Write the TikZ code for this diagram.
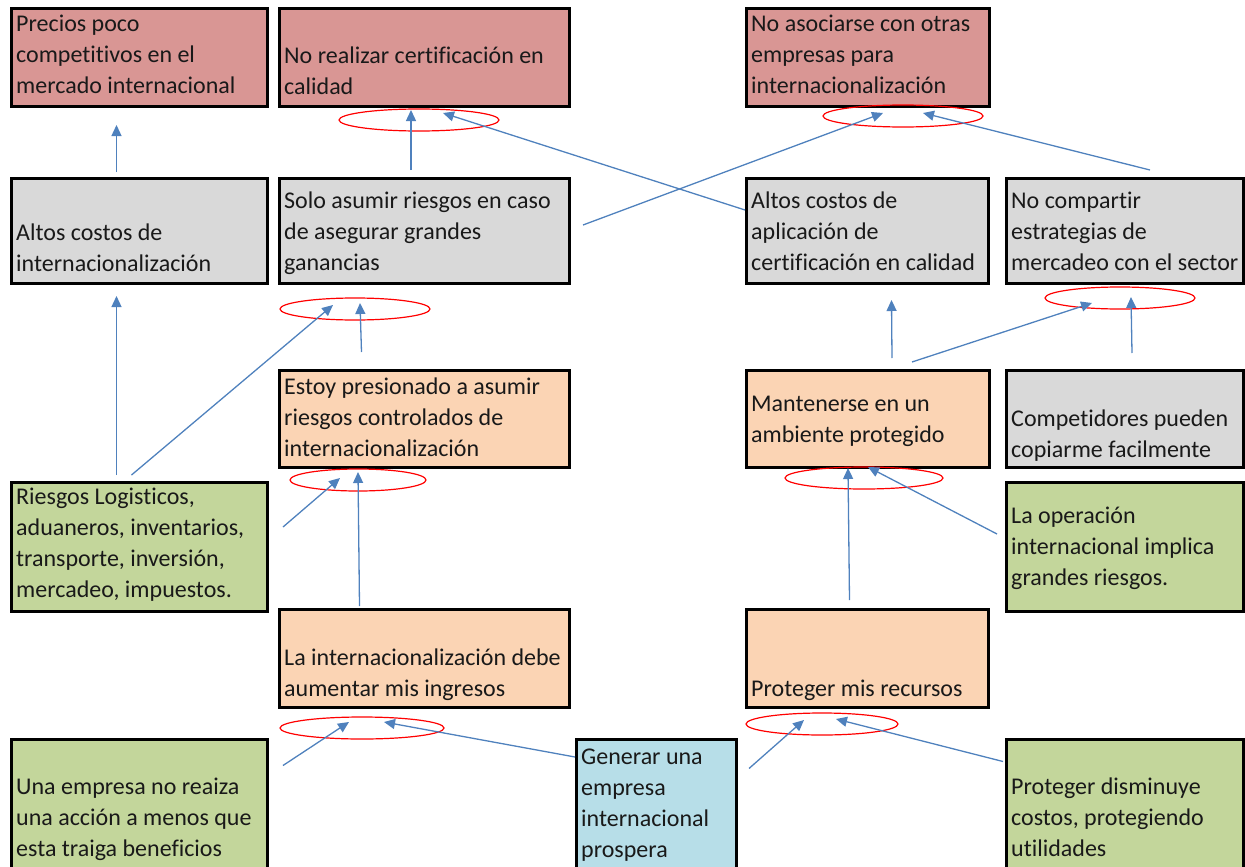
\documentclass[tikz,border=0pt]{standalone}
\usepackage{fontspec}
\setmainfont{Carlito}[Ligatures={NoCommon}]
\usetikzlibrary{arrows.meta,calc}
\definecolor{cred}{HTML}{D99694}
\definecolor{cgray}{HTML}{D9D9D9}
\definecolor{corange}{HTML}{FBD4B4}
\definecolor{cgreen}{HTML}{C3D69B}
\definecolor{cblue}{HTML}{B7DEE8}
\definecolor{arrowblue}{HTML}{4F81BD}
\definecolor{ellred}{HTML}{FF0000}
\tikzset{
  boxshape/.style={draw=black, line width=3pt, inner sep=0pt, anchor=north west},
  boxtext/.style={anchor=north west, inner sep=0pt, align=left, font=\fontsize{24}{31}\selectfont, text=black!90},
  conn/.style={draw=arrowblue, line width=1.3pt, -{Triangle[length=11pt,width=10pt]}}
}
% \bx{name}{fill}{x1}{y1}{x2}{y2}{first baseline}{text}
\newcommand{\bx}[8]{%
  \node[boxshape, fill=#2, minimum width=#5pt-#3pt, minimum height=#6pt-#4pt] (#1) at (#3,#4) {};
  \node[boxtext] (#1-t) at (#3+6,#7-22) {\rule{0pt}{22pt}#8};
}
\newcommand{\ov}[5]{%
  \draw[draw=ellred, line width=1.2pt] (#2,#3) ellipse [x radius=#4pt, y radius=#5pt];
  \coordinate (#1) at (#2,#3);
}
\begin{document}
\begin{tikzpicture}[x=1pt,y=-1pt]
\useasboundingbox (0,0) rectangle (1245,867);
% Row 1
\bx{A1}{cred}{10}{7}{266}{105}{31}{Precios poco\\competitivos en el\\mercado internacional}
\bx{A2}{cred}{278}{7}{568}{105}{63}{No realizar certificación en\\calidad}
\bx{A3}{cred}{745}{7}{988}{105}{31}{No asociarse con otras\\empresas para\\internacionalización}
% Row 2
\bx{B1}{cgray}{10}{177}{266}{282}{240}{Altos costos de\\internacionalización}
\bx{B2}{cgray}{278}{177}{568}{282}{208}{Solo asumir riesgos en caso\\de asegurar grandes\\ganancias}
\bx{B3}{cgray}{745}{177}{987}{282}{208}{Altos costos de\\aplicación de\\certificación en calidad}
\bx{B4}{cgray}{1005}{177}{1242}{282}{208}{No compartir\\estrategias de\\mercadeo con el sector}
% Row 3
\bx{C1}{corange}{278}{369}{568}{466}{394}{Estoy presionado a asumir\\riesgos controlados de\\internacionalización}
\bx{C2}{corange}{745}{369}{988}{466}{411}{Mantenerse en un\\ambiente protegido}
\bx{C3}{cgray}{1005}{369}{1242}{466}{426}{Competidores pueden\\copiarme facilmente}
% Row 4
\bx{D1}{cgreen}{10}{481}{266}{610}{504}{Riesgos Logisticos,\\aduaneros, inventarios,\\transporte, inversión,\\mercadeo, impuestos.}
\bx{D2}{cgreen}{1005}{481}{1242}{610}{523}{La operación\\internacional implica\\grandes riesgos.}
% Row 5
\bx{E1}{corange}{278}{608}{568}{706}{665}{La internacionalización debe\\aumentar mis ingresos}
\bx{E2}{corange}{745}{608}{987}{706}{696}{Proteger mis recursos}
% Row 6
\bx{F1}{cgreen}{10}{738}{266}{868}{794}{Una empresa no reaiza\\una acción a menos que\\esta traiga beneficios}
\bx{F2}{cblue}{575}{738}{735}{868}{764}{Generar una\\empresa\\internacional\\prospera}
\bx{F3}{cgreen}{1005}{738}{1242}{868}{794}{Proteger disminuye\\costos, protegiendo\\utilidades}
% Ellipses
\ov{eA2}{419}{120}{80}{11}
\ov{eA3}{903}{116}{80}{11}
\ov{eB2}{355}{309}{75}{11}
\ov{eB4}{1120}{298}{75}{11}
\ov{eC1}{358}{480}{68}{11}
\ov{eC2}{864}{478}{79}{11}
\ov{eE1}{362}{728}{82}{11}
\ov{eE2}{822}{724}{76}{11}
% Connectors
\draw[conn] ($(B1.north)+(-23,-5)$) -- ($(A1.south)+(-23,17)$);
\draw[conn] ($(eA2)+(-8,50)$) -- ($(eA2)+(-8,-10)$);
\draw[conn] (B3.west |- 0,210) -- ($(eA2)+(24,-7)$);
\draw[conn] ($(B2.east)+(12,-6)$) -- ($(eA3)+(-20,-3)$);
\draw[conn] ($(B4.north)+(25,-7)$) -- ($(eA3)+(20,-3)$);
\draw[conn] ($(D1.north)+(-23,-6)$) -- ($(B1.south)+(-23,11)$);
\draw[conn] ($(D1.north)+(-8,-6)$) -- ($(eB2)+(-22,-4)$);
\draw[conn] ($(C1.north)+(-63,-17)$) -- ($(eB2)+(5,-6)$);
\draw[conn] ($(D1.east)+(14,-20)$) -- ($(eC1)+(-18,-2)$);
\draw[conn] ($(E1.north)+(-65,-2)$) -- ($(eC1)+(0,-8)$);
\draw[conn] ($(C2.north)+(24,-11)$) -- ($(B3.south)+(24,15)$);
\draw[conn] ($(C2.north)+(44,-7)$) -- ($(eB4)+(-28,5)$);
\draw[conn] ($(C3.north)+(7,-16)$) -- ($(eB4)+(11,-1)$);
\draw[conn] ($(E2.north)+(-18,-8)$) -- ($(eC2)+(-16,-10)$);
\draw[conn] ($(D2.west)+(-8,-13)$) -- ($(eC2)+(4,-11)$);
\draw[conn] ($(F1.east)+(14,-39)$) -- ($(eE1)+(-13,-6)$);
\draw[conn] (F2.west |- 0,757) -- ($(eE1)+(22,-6)$);
\draw[conn] ($(F2.east)+(11,-36)$) -- ($(eE2)+(-18,-4)$);
\draw[conn] ($(F3.west)+(-2,-43)$) -- ($(eE2)+(14,-5)$);
\end{tikzpicture}
\end{document}
